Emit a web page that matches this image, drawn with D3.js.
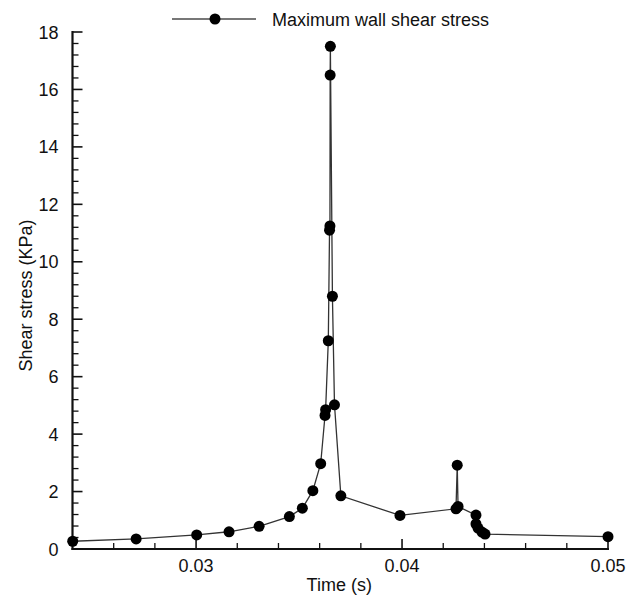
<!DOCTYPE html>
<html>
<head>
<meta charset="utf-8">
<script src="https://cdn.jsdelivr.net/npm/d3@7"></script>
<style>
  html, body { margin: 0; padding: 0; background: #fff; }
  svg text { font-family: "Liberation Sans", Arial, Helvetica, sans-serif; fill: #111; }
</style>
</head>
<body>
<svg id="chart" width="629" height="605"></svg>
<script>
// Maximum wall shear stress over time
const timeS = [
  0.02401, 0.02709, 0.03003, 0.03160, 0.03306, 0.03453, 0.03516, 0.03567,
  0.03605, 0.03626, 0.03629, 0.03642, 0.03648, 0.03650, 0.03651, 0.03652,
  0.03662, 0.03672, 0.03703, 0.03990, 0.04262, 0.04268, 0.04272, 0.04359,
  0.04359, 0.04369, 0.04388, 0.04403, 0.05000
];
const shearKPa = [
  0.27, 0.35, 0.49, 0.60, 0.79, 1.13, 1.42, 2.03,
  2.97, 4.65, 4.85, 7.25, 11.10, 11.25, 16.50, 17.50,
  8.80, 5.02, 1.85, 1.17, 1.40, 2.92, 1.48, 1.18,
  0.87, 0.73, 0.59, 0.52, 0.43
];
const xTickValues = [0.03, 0.04, 0.05];
const yTickValues = [0, 2, 4, 6, 8, 10, 12, 14, 16, 18];
const seriesName = "Maximum wall shear stress";
const xTitle = "Time (s)";
const yTitle = "Shear stress (KPa)";

const points = timeS.map((t, i) => ({ t, v: shearKPa[i] }));

const svg = d3.select("#chart");
const plotLeft = 72.5, plotRight = 608, plotTop = 32, plotBottom = 549;
const fontSize = 18;

const x = d3.scaleLinear().domain([0.024, 0.05]).range([plotLeft, plotRight]);
const y = d3.scaleLinear().domain([0, 18]).range([plotBottom, plotTop]);

// minor ticks
const xMinor = d3.range(0.026, 0.0501, 0.002).filter(v => !xTickValues.some(m => Math.abs(m - v) < 1e-6));
const yMinor = d3.range(0.4, 18, 0.4).filter(v => Math.abs(v / 2 - Math.round(v / 2)) > 1e-6);

const axisColor = "#111";

// x axis (ticks point inward)
const gx = svg.append("g").attr("transform", `translate(0,${plotBottom})`);
gx.selectAll("line.minor").data(xMinor).join("line")
  .attr("x1", d => x(d)).attr("x2", d => x(d))
  .attr("y1", 0).attr("y2", -6)
  .attr("stroke", axisColor).attr("stroke-width", 1.3);
gx.selectAll("line.major").data(xTickValues).join("line")
  .attr("x1", d => x(d)).attr("x2", d => x(d))
  .attr("y1", 0).attr("y2", -10)
  .attr("stroke", axisColor).attr("stroke-width", 1.6);
gx.selectAll("text.tick").data(xTickValues).join("text")
  .attr("x", d => x(d)).attr("y", 23)
  .attr("text-anchor", "middle").attr("font-size", fontSize)
  .text(d => d3.format(".2f")(d));
gx.append("line").attr("x1", plotLeft - 1).attr("x2", plotRight + 1)
  .attr("stroke", axisColor).attr("stroke-width", 2.2);

// y axis
const gy = svg.append("g").attr("transform", `translate(${plotLeft},0)`);
gy.selectAll("line.minor").data(yMinor).join("line")
  .attr("x1", 0).attr("x2", 6)
  .attr("y1", d => y(d)).attr("y2", d => y(d))
  .attr("stroke", axisColor).attr("stroke-width", 1.3);
gy.selectAll("line.major").data(yTickValues).join("line")
  .attr("x1", 0).attr("x2", 10)
  .attr("y1", d => y(d)).attr("y2", d => y(d))
  .attr("stroke", axisColor).attr("stroke-width", 1.6);
gy.selectAll("text.tick").data(yTickValues).join("text")
  .attr("x", -14).attr("y", d => y(d) + 6.5)
  .attr("text-anchor", "end").attr("font-size", fontSize)
  .text(d => d);
gy.append("line").attr("y1", plotTop - 1).attr("y2", plotBottom + 1)
  .attr("stroke", axisColor).attr("stroke-width", 2.2);

// axis titles
svg.append("text").attr("x", (plotLeft + plotRight) / 2 - 1).attr("y", 591)
  .attr("text-anchor", "middle").attr("font-size", fontSize).text(xTitle);
svg.append("text")
  .attr("transform", `translate(32,${(plotTop + plotBottom) / 2 + 5}) rotate(-90)`)
  .attr("text-anchor", "middle").attr("font-size", fontSize).text(yTitle);

// series line and markers
const line = d3.line().x(d => x(d.t)).y(d => y(d.v));
svg.append("path").datum(points)
  .attr("d", line).attr("fill", "none")
  .attr("stroke", "#333").attr("stroke-width", 1.3);
svg.append("g").selectAll("circle").data(points).join("circle")
  .attr("cx", d => x(d.t)).attr("cy", d => y(d.v)).attr("r", 5.5)
  .attr("fill", "#000");

// legend
const lg = svg.append("g").attr("transform", "translate(0,19)");
lg.append("line").attr("x1", 172).attr("x2", 256).attr("y1", 0).attr("y2", 0)
  .attr("stroke", "#777").attr("stroke-width", 1.8);
lg.append("circle").attr("cx", 215).attr("cy", 0).attr("r", 5.5).attr("fill", "#000");
lg.append("text").attr("x", 272).attr("y", 7).attr("font-size", fontSize).text(seriesName);
</script>
</body>
</html>
